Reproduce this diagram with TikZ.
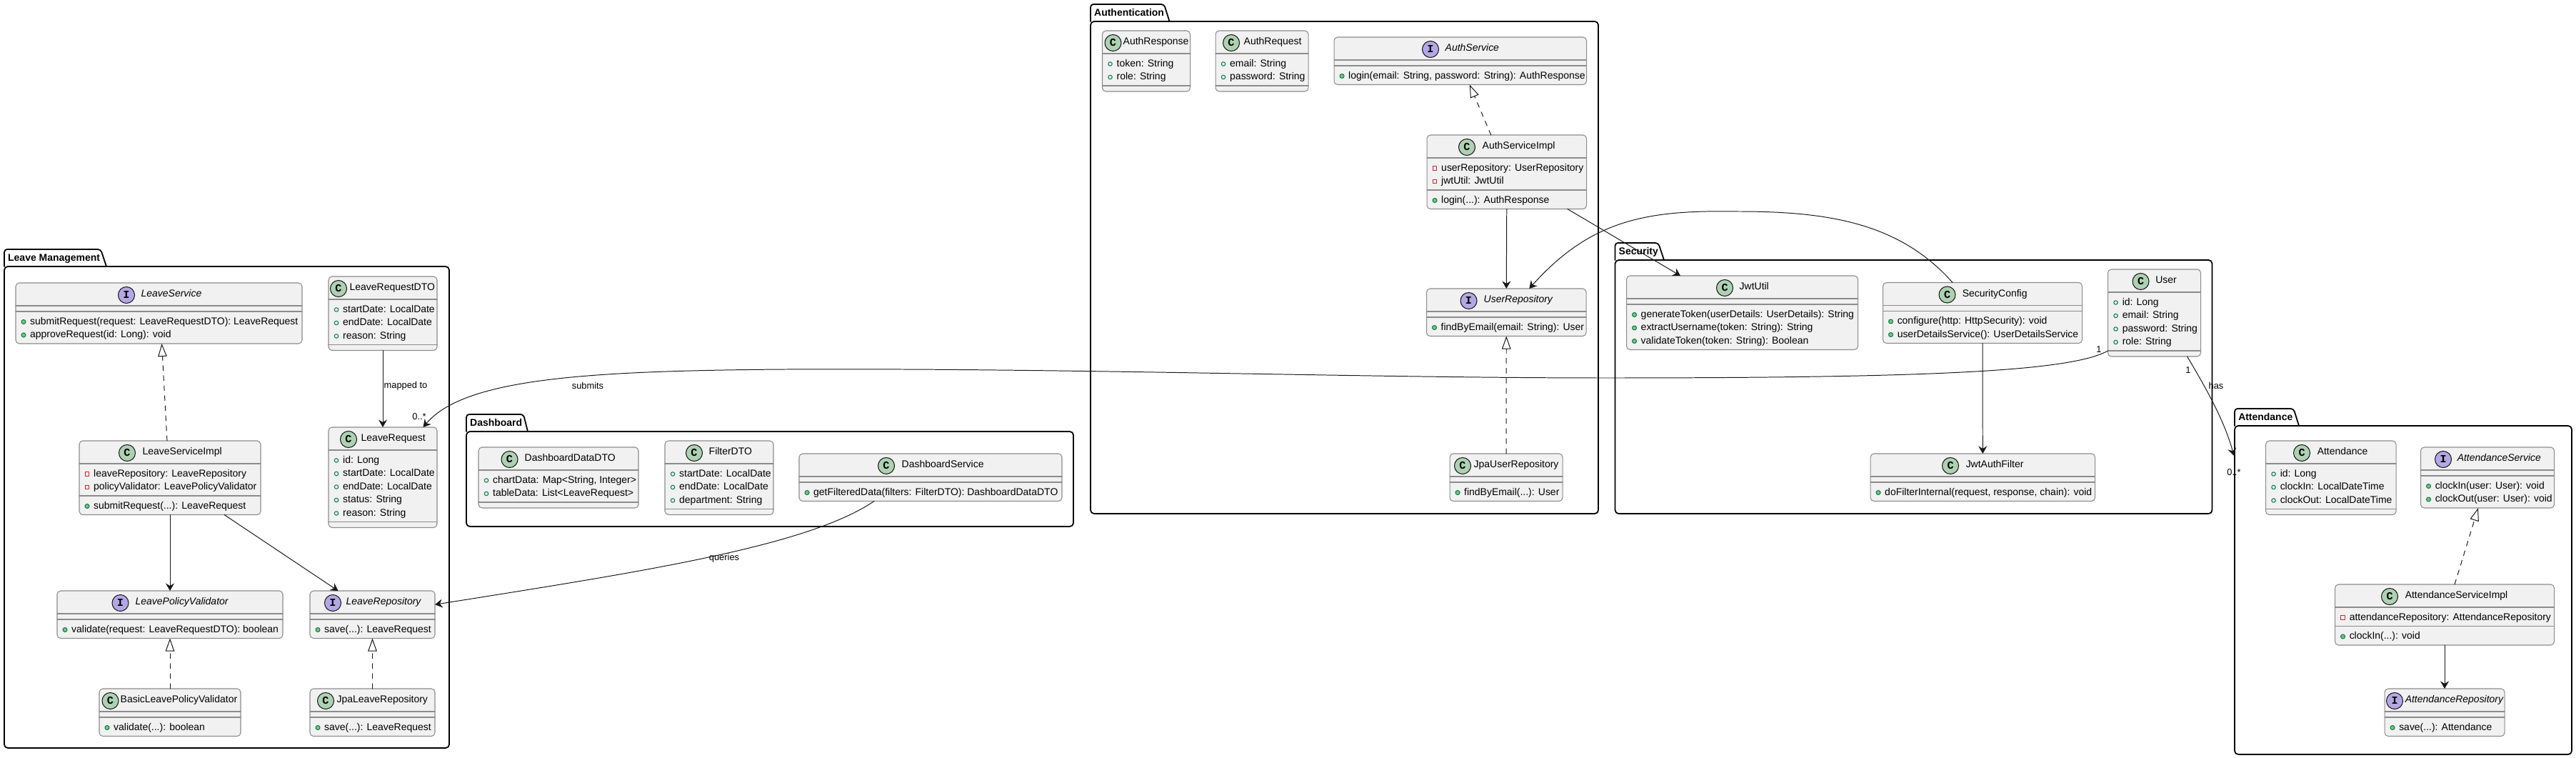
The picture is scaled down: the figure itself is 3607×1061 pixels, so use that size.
\documentclass[tikz,border=0pt]{standalone}
\usepackage{fontspec}
\setmainfont{Liberation Sans}
\newfontfamily\spotfont{Liberation Mono}
\usetikzlibrary{fit,arrows.meta}
\definecolor{boxfill}{HTML}{F1F1F1}
\definecolor{boxline}{HTML}{8C8C8C}
\definecolor{inkline}{HTML}{181818}
\definecolor{spotcolC}{HTML}{ADD1B2}
\definecolor{spotcolI}{HTML}{B4A7E5}
\definecolor{publine}{HTML}{038048}
\definecolor{pubfill}{HTML}{84BE84}
\definecolor{privline}{HTML}{C82930}
\newcommand{\etc}{...}
\tikzset{
	rowfont/.style={font=\fontsize{3.97}{4.8}\selectfont},
	pkgline/.style={draw=black,line width=0.5pt},
	classbox/.style={draw=boxline,fill=boxfill,line width=0.3pt,rounded corners=0.5mm,inner sep=0pt,outer sep=0pt},
	classline/.style={draw=boxline,line width=0.3pt},
	rowtext/.style={rowfont,anchor=west,inner sep=0pt,text height=2.9pt,text depth=0.85pt},
	titleC/.style={rowtext},
	titleI/.style={rowtext,font=\fontsize{3.97}{4.8}\selectfont\itshape},
	pkgtitle/.style={rowtext,font=\fontsize{3.97}{4.8}\selectfont\bfseries},
	spotC/.style={circle,draw=inkline,fill=spotcolC,line width=0.3pt,minimum size=2.3mm,inner sep=0pt,font=\fontsize{4.3}{5}\spotfont\bfseries},
	spotI/.style={spotC,fill=spotcolI},
	markf/.style={circle,draw=publine,line width=0.3pt,minimum size=0.55mm,inner sep=0pt},
	markm/.style={circle,draw=publine,fill=pubfill,line width=0.3pt,minimum size=0.6mm,inner sep=0pt},
	markp/.style={rectangle,draw=privline,line width=0.3pt,minimum size=0.55mm,inner sep=0pt},
	link/.style={draw=inkline,line width=0.28pt},
	assoc/.style={link,-{Stealth[inset=0.35mm,length=1.05mm,width=1.2mm]}},
	realize/.style={link,dash pattern=on 2pt off 2pt,-{Triangle[open,fill=white,length=1.8mm,width=1.25mm]}},
	edgelabel/.style={font=\fontsize{3.65}{4.4}\selectfont,inner sep=0pt}
}
% rows of one compartment: class, f or m, list of mark/text
\newcommand{\umlrows}[3]{
	\foreach \vis/\txt [count=\i] in {#3}{
		\node[mark\vis] (#1-#2\i-mark) at ([shift={(11,{14.5+18.5*(\i-1)})}]#1-#2) {};
		\node[rowtext] (#1-#2\i) at ([shift={(19.5,{14.5+18.5*(\i-1)})}]#1-#2) {\txt};
	}
}
\begin{document}
\begin{tikzpicture}[x=0.01cm,y=-0.01cm,line join=round,line cap=round]
	\useasboundingbox (0,0) rectangle (3607,1061);
	% Packages
	\foreach \pkg/\title/\xa/\ya/\xb/\xc/\yb/\xd/\yc in {
		LeavePkg/Leave Management/6/349/141/149/373/629/1047,
		DashboardPkg/Dashboard/653/580/733/739/604/1503/737,
		AuthPkg/Authentication/1527/6/1630/1637.5/30/2238/719,
		SecurityPkg/Security/2261.5/340/2322/2330/364/3097.5/719,
		AttendancePkg/Attendance/3129/572/3211.5/3219/596/3601/1056}{
		\draw[pkgline,rounded corners=0.4mm] (\xa,\yb) -- (\xa,\ya) -- (\xb,\ya) -- (\xc,\yb);
		\draw[pkgline,rounded corners=0.5mm] (\xa,\yb) rectangle (\xd,\yc);
		\node[pkgtitle] (\pkg) at (\xa+4.5,\ya+13) {\title};
	}
	% Classes
	\foreach \cname/\kind/\xa/\ya/\xb/\nf/\nm/\xs/\xt in {
		LeaveService/I/22/396/423/0/2/177/197,
		LeaveRequestDTO/C/460/387/612/3/0/474/489,
		LeaveServiceImpl/C/111/617/365/2/1/178/199,
		LeaveRequest/C/460/598/612/5/0/488/505,
		LeavePolicyValidator/I/80/827/396/0/1/168.5/189,
		LeaveRepository/I/434/827/609/0/1/466/484,
		BasicLeavePolicyValidator/C/139/964/337/0/1/154.5/168,
		JpaLeaveRepository/C/434/964/609/0/1/456/471,
		DashboardDataDTO/C/670/626/894/2/0/713.5/734,
		FilterDTO/C/931/617/1083/3/0/972/992,
		DashboardService/C/1119/635/1487/0/1/1241/1262,
		AuthResponse/C/1543.5/43/1666.5/2/0/1558.5/1572,
		AuthRequest/C/1702/43/1832/2/0/1724/1741,
		AuthService/I/1868/52/2221.5/0/1/2003/2023,
		AuthServiceImpl/C/1998/189/2221.5/2/1/2054/2075,
		UserRepository/I/1997.5/404/2221/0/1/2056.5/2077,
		JpaUserRepository/C/2030/635/2188/0/1/2048/2063,
		JwtUtil/C/2277.5/386/2601.5/0/3/2415/2435,
		SecurityConfig/C/2636.5/395.5/2915.5/0/2/2726.5/2747,
		User/C/2951.5/377/3081.5/4/0/2997.5/3017.5,
		JwtAuthFilter/C/2619/635/2933.5/0/1/2731/2752,
		Attendance/C/3172.5/617/3355/3/0/3223/3244,
		AttendanceService/I/3389.5/626/3576.5/0/2/3421/3440,
		AttendanceServiceImpl/C/3269.5/818/3576.5/1/1/3346/3367,
		AttendanceRepository/I/3339/964/3507/0/1/3353/3367}{
		\pgfmathsetmacro\sa{\ya+32}
		\pgfmathsetmacro\sb{\sa+8+18.5*\nf}
		\pgfmathsetmacro\yb{\sb+8+18.5*\nm}
		\node[classbox,fit={(\xa,\ya)(\xb,\yb)}] (\cname) {};
		\draw[classline] (\xa,\sa) -- (\xb,\sa);
		\draw[classline] (\xa,\sb) -- (\xb,\sb);
		\node[spot\kind] (\cname-spot) at (\xs,\ya+17) {\kind};
		\node[title\kind] (\cname-title) at (\xt,\ya+16) {\cname};
		\coordinate (\cname-f) at (\xa,\sa);
		\coordinate (\cname-m) at (\xa,\sb);
	}
	% Fields and methods
	\umlrows{LeaveService}{m}{m/{submitRequest(request: LeaveRequestDTO): LeaveRequest},m/{approveRequest(id: Long): void}}
	\umlrows{LeaveRequestDTO}{f}{f/{startDate: LocalDate},f/{endDate: LocalDate},f/{reason: String}}
	\umlrows{LeaveServiceImpl}{f}{p/{leaveRepository: LeaveRepository},p/{policyValidator: LeavePolicyValidator}}
	\umlrows{LeaveServiceImpl}{m}{m/{submitRequest(\etc): LeaveRequest}}
	\umlrows{LeaveRequest}{f}{f/{id: Long},f/{startDate: LocalDate},f/{endDate: LocalDate},f/{status: String},f/{reason: String}}
	\umlrows{LeavePolicyValidator}{m}{m/{validate(request: LeaveRequestDTO): boolean}}
	\umlrows{LeaveRepository}{m}{m/{save(\etc): LeaveRequest}}
	\umlrows{BasicLeavePolicyValidator}{m}{m/{validate(\etc): boolean}}
	\umlrows{JpaLeaveRepository}{m}{m/{save(\etc): LeaveRequest}}
	\umlrows{DashboardDataDTO}{f}{f/{chartData: Map<String, Integer>},f/{tableData: List<LeaveRequest>}}
	\umlrows{FilterDTO}{f}{f/{startDate: LocalDate},f/{endDate: LocalDate},f/{department: String}}
	\umlrows{DashboardService}{m}{m/{getFilteredData(filters: FilterDTO): DashboardDataDTO}}
	\umlrows{AuthResponse}{f}{f/{token: String},f/{role: String}}
	\umlrows{AuthRequest}{f}{f/{email: String},f/{password: String}}
	\umlrows{AuthService}{m}{m/{login(email: String, password: String): AuthResponse}}
	\umlrows{AuthServiceImpl}{f}{p/{userRepository: UserRepository},p/{jwtUtil: JwtUtil}}
	\umlrows{AuthServiceImpl}{m}{m/{login(\etc): AuthResponse}}
	\umlrows{UserRepository}{m}{m/{findByEmail(email: String): User}}
	\umlrows{JpaUserRepository}{m}{m/{findByEmail(\etc): User}}
	\umlrows{JwtUtil}{m}{m/{generateToken(userDetails: UserDetails): String},m/{extractUsername(token: String): String},m/{validateToken(token: String): Boolean}}
	\umlrows{SecurityConfig}{m}{m/{configure(http: HttpSecurity): void},m/{userDetailsService(): UserDetailsService}}
	\umlrows{User}{f}{f/{id: Long},f/{email: String},f/{password: String},f/{role: String}}
	\umlrows{JwtAuthFilter}{m}{m/{doFilterInternal(request, response, chain): void}}
	\umlrows{Attendance}{f}{f/{id: Long},f/{clockIn: LocalDateTime},f/{clockOut: LocalDateTime}}
	\umlrows{AttendanceService}{m}{m/{clockIn(user: User): void},m/{clockOut(user: User): void}}
	\umlrows{AttendanceServiceImpl}{f}{p/{attendanceRepository: AttendanceRepository}}
	\umlrows{AttendanceServiceImpl}{m}{m/{clockIn(\etc): void}}
	\umlrows{AttendanceRepository}{m}{m/{save(\etc): Attendance}}
	% Straight links
	\draw[realize] ([shift={(-4,0)}]LeaveServiceImpl.north) -- ([shift={(4,0)}]LeaveService.south);
	\draw[assoc] (LeaveRequestDTO.south) -- (LeaveRequest.north);
	\draw[assoc] (LeaveServiceImpl.south) -- (LeavePolicyValidator.north);
	\draw[assoc] ([shift={(76,0)}]LeaveServiceImpl.south) -- ([shift={(-48,0)}]LeaveRepository.north);
	\draw[realize] (BasicLeavePolicyValidator.north) -- (LeavePolicyValidator.south);
	\draw[realize] (JpaLeaveRepository.north) -- (LeaveRepository.south);
	\draw[realize] ([shift={(-22,0)}]AuthServiceImpl.north) -- ([shift={(13,0)}]AuthService.south);
	\draw[assoc] (AuthServiceImpl.south) -- (UserRepository.north);
	\draw[assoc] ([shift={(85,0)}]AuthServiceImpl.south) -- ([shift={(-86.5,0)}]JwtUtil.north);
	\draw[realize] (JpaUserRepository.north) -- (UserRepository.south);
	\draw[assoc] (SecurityConfig.south) -- (JwtAuthFilter.north);
	\draw[realize] ([shift={(14,0)}]AttendanceServiceImpl.north) -- ([shift={(-13,0)}]AttendanceService.south);
	\draw[assoc] (AttendanceServiceImpl.south) -- (AttendanceRepository.north);
	% Curved links
	\path
	(2250,529) coordinate (submitsA)
	(1100,517) coordinate (submitsB)
	(2434,296) coordinate (configA)
	(3128,638) coordinate (attendanceIn);
	\draw[assoc] ([shift={(0,-8)}]User.south west)
		.. controls (2900,520) and (2700,529) .. (submitsA)
		.. controls (1900,529) and (1500,515) .. (submitsB)
		.. controls (820,519) and (650,530) .. ([shift={(56.5,0)}]LeaveRequest.north);
	\draw[assoc] ([shift={(-79,0)}]DashboardService.south)
		.. controls (1130,765) and (900,800) .. ([shift={(0,-14)}]LeaveRepository.east);
	\draw[assoc] ([shift={(-42,0)}]SecurityConfig.north)
		.. controls (2660,312) and (2560,296) .. (configA)
		.. controls (2310,294) and (2230,305) .. ([shift={(32,0)}]UserRepository.north);
	\draw[assoc] ([shift={(46,0)}]User.south)
		.. controls (3090,545) and (3115,590) .. (attendanceIn);
	% Link labels
	\node[edgelabel] (mappedLabel) at (568,540) {mapped to};
	\node[edgelabel] (manyRequests) at (587,583) {0..*};
	\node[edgelabel] (submitsLabel) at (823,540) {submits};
	\node[edgelabel] (queriesLabel) at (1014,781) {queries};
	\node[edgelabel] (oneSubmits) at (2939,489) {1};
	\node[edgelabel] (oneHas) at (3064,518) {1};
	\node[edgelabel] (hasLabel) at (3103,540) {has};
	\node[edgelabel] (manyAttendance) at (3128,661) {0..*};
\end{tikzpicture}
\end{document}
